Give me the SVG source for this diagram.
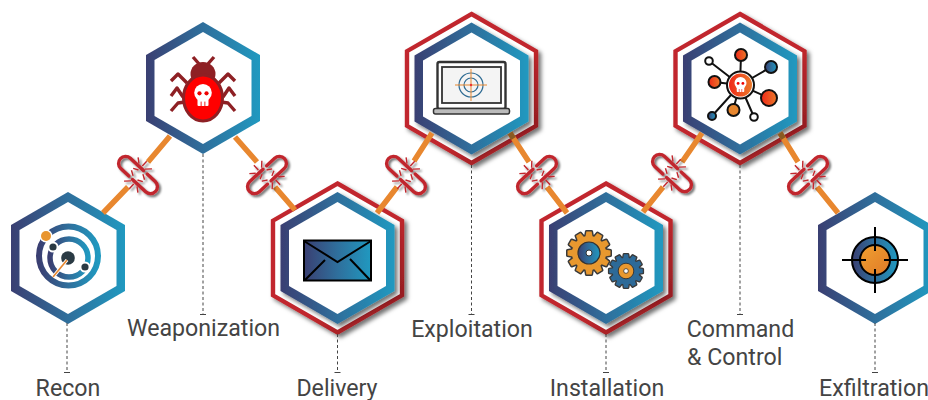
<svg xmlns="http://www.w3.org/2000/svg" xmlns:xlink="http://www.w3.org/1999/xlink" width="928" height="400" viewBox="0 0 928 400">
<style>
.lbl{font-family:Roboto,"Liberation Sans",sans-serif;font-size:23.2px;fill:#444;text-anchor:middle}
.lead{stroke:#444;stroke-width:1;stroke-dasharray:3 2.5;fill:none}
.tick{stroke:#444;stroke-width:1;fill:none}
.con{stroke:#e8872f;stroke-width:5.5;fill:none}
.stub{stroke:#8a5a22;stroke-width:5.5;fill:none}
.k{stroke:#111;stroke-width:2}
.leg{stroke:#8e2024;stroke-width:3.4;fill:none;stroke-linejoin:round}
.spark{stroke:#c1272d;stroke-width:1.4}
.chain{stroke:#c1272d;stroke-width:3.4;fill:none;stroke-linecap:round}
</style>
<defs>
<linearGradient id="blue" x1="0" y1="0" x2="1" y2="0"><stop offset="0" stop-color="#3a3f72"/><stop offset=".5" stop-color="#2f6f9c"/><stop offset="1" stop-color="#2099c0"/></linearGradient>
<linearGradient id="fire" x1="0" y1="0" x2="1" y2="1"><stop offset="0" stop-color="#f0a030"/><stop offset="1" stop-color="#e07a28"/></linearGradient>
<linearGradient id="hot" x1="0" y1="0" x2="1" y2="0"><stop offset="0" stop-color="#f02818"/><stop offset="1" stop-color="#ea7a2a"/></linearGradient>
<linearGradient id="redg" x1="0" y1="0" x2="1" y2="1"><stop offset="0" stop-color="#c1272d"/><stop offset=".6" stop-color="#c1272d"/><stop offset="1" stop-color="#861a1e"/></linearGradient>
<filter id="sh" x="-20%" y="-20%" width="140%" height="140%"><feDropShadow dx="3" dy="3" stdDeviation="2" flood-color="#000" flood-opacity=".55"/></filter>
<filter id="sh2" x="-10%" y="-30%" width="120%" height="170%"><feDropShadow dx="2" dy="2" stdDeviation="1.2" flood-color="#000" flood-opacity=".55"/></filter>
<g id="hexB">
<polygon points="0,-66 57,-33 57,33 0,66 -57,33 -57,-33" fill="url(#blue)"/>
<polygon points="0,-56 48.500,-28 48.500,28 0,56 -48.500,28 -48.500,-28" fill="#fff"/>
</g>
<polygon id="hexR" points="0,-74.500 64.500,-37.300 64.500,37.300 0,74.500 -64.500,37.300 -64.500,-37.300" fill="#fff" stroke="url(#redg)" stroke-width="4.400"/>
<g id="link">
<path class="chain" d="M1,-7H-17A7,7 0 0 0 -17,7H-6"/>
<path class="chain" d="M-1,7H17A7,7 0 0 0 17,-7H6"/>
<path class="spark" d="M-3,-9.500V-16M-7,-9L-12,-13M1,-9L6,-14M-3,-4L-8,-1.500M3,-4L8,-1"/>
<path class="spark" d="M3,9.500V16M7,9L12,13M-1,9L-6,14M3,4L8,1.500M-3,4L-8,1"/>
</g>
<g id="skull">
<circle cx="0" cy="-2" r="8" fill="#fff"/><rect x="-5" y="2" width="10" height="8" rx="1" fill="#fff"/>
<circle cx="-3.200" cy="-1.500" r="1.900" fill="#e00"/><circle cx="3.200" cy="-1.500" r="1.900" fill="#e00"/>
<path d="M-1.700,6V10M1.700,6V10" stroke="#e00" stroke-width=".8"/>
</g>
<polygon id="tooth" points="-3.600,-16 -2.600,-21.500 2.600,-21.500 3.600,-16"/>
<g id="gear">
<circle r="17"/>
<use href="#tooth"/><use href="#tooth" transform="rotate(30)"/><use href="#tooth" transform="rotate(60)"/><use href="#tooth" transform="rotate(90)"/><use href="#tooth" transform="rotate(120)"/><use href="#tooth" transform="rotate(150)"/><use href="#tooth" transform="rotate(180)"/><use href="#tooth" transform="rotate(210)"/><use href="#tooth" transform="rotate(240)"/><use href="#tooth" transform="rotate(270)"/><use href="#tooth" transform="rotate(300)"/><use href="#tooth" transform="rotate(330)"/>
</g>
</defs>

<g id="node-recon">
<use href="#hexB" x="68" y="258"/>
<circle cx="68.500" cy="256" r="29.500" fill="none" stroke="url(#blue)" stroke-width="6"/>
<circle cx="69" cy="258" r="19" fill="none" stroke="url(#blue)" stroke-width="5.500"/>
<circle cx="46" cy="236" r="6.500" fill="#fff"/><circle cx="46" cy="236" r="5" fill="#e8952f"/>
<circle cx="53" cy="247" r="5.500" fill="#fff"/><circle cx="53" cy="247" r="3.600" fill="#2a3a44"/>
<circle cx="85" cy="267" r="5.500" fill="#fff"/><circle cx="85" cy="267" r="3.600" fill="#2a3a44"/>
<circle cx="68" cy="258" r="6.800" fill="#2a3a44"/>
<path d="M53,277L67,260" stroke="#fff" stroke-width="3.500"/>
<path d="M53,277L67,260" stroke="#e8872f" stroke-width="1.600"/>
</g>

<g id="node-weaponization">
<use href="#hexB" x="203" y="88"/>
<ellipse cx="203" cy="74" rx="12.500" ry="12" fill="#8e2024"/>
<path class="leg" d="M193,57L200,65M214,57L207,65M187,83L178,74L171,81M219,83L228,74L235,81M183,97L177,88L171,96M223,97L229,88L235,96M185,102L178,103L171,111M221,102L228,103L235,111"/>
<ellipse cx="203" cy="98" rx="19.500" ry="23" fill="#f00" stroke="#8e2024" stroke-width="3"/>
<use href="#skull" transform="translate(203,95) scale(1.100)"/>
</g>

<g id="node-delivery">
<use href="#hexR" x="337.500" y="258" filter="url(#sh)"/>
<use href="#hexB" x="337.500" y="258" filter="url(#sh)"/>
<rect x="304" y="240.500" width="67" height="40" fill="url(#blue)" stroke="#000" stroke-width="2"/>
<path d="M304,241L337.500,262L371,241M305,280L325,260M370,280L350,259" fill="none" stroke="#000" stroke-width="2"/>
</g>

<g id="node-exploitation">
<use href="#hexR" x="471.500" y="88.500" filter="url(#sh)"/>
<use href="#hexB" x="471.500" y="88.500" filter="url(#sh)"/>
<rect x="437.500" y="62" width="68" height="47" rx="2" fill="#fff" stroke="#333" stroke-width="2.400"/>
<rect x="442" y="67" width="59" height="36" fill="#f4f4f4" stroke="#333" stroke-width="1.800"/>
<rect x="433.500" y="108.500" width="76" height="5.500" rx="2" fill="#bbb" stroke="#333" stroke-width="1.500"/>
<circle cx="471" cy="85" r="12" fill="none" stroke="#2d6a92" stroke-width="1.200"/>
<circle cx="471" cy="85" r="7" fill="none" stroke="#2d6a92" stroke-width="1.200"/>
<path d="M455,85H487M471,69V101" stroke="#e8872f" stroke-width="1"/>
<circle cx="471" cy="85" r="1.200" fill="#e33"/>
</g>

<g id="node-installation">
<use href="#hexR" x="606" y="258" filter="url(#sh)"/>
<use href="#hexB" x="606" y="258" filter="url(#sh)"/>
<g transform="translate(589,253)">
<use href="#gear" fill="#3a3a3a" stroke="#3a3a3a" stroke-width="3" stroke-linejoin="round"/>
<use href="#gear" fill="#e8982f"/>
<circle r="11" fill="url(#blue)" stroke="#333" stroke-width="1.200"/>
<circle r="3" fill="#fff" stroke="#333"/>
</g>
<g transform="translate(626,271) scale(.78)">
<use href="#gear" fill="#3a3a3a" stroke="#3a3a3a" stroke-width="3.400" stroke-linejoin="round"/>
<use href="#gear" fill="#2d6a98"/>
<circle r="10" fill="#e8982f" stroke="#333" stroke-width="1.200"/>
<circle r="3" fill="#fff" stroke="#333"/>
</g>
</g>

<g id="node-command">
<use href="#hexR" x="740" y="88.500" filter="url(#sh)"/>
<use href="#hexB" x="740" y="88.500" filter="url(#sh)"/>
<path d="M740,85L741,55M740,85L771,67M740,85L769,98M740,85L754,117M740,85L733,110M740,85L712,116M740,85L714,82M740,85L709,61" stroke="#111" stroke-width="2"/>
<circle class="k" cx="741" cy="55" r="6" fill="url(#hot)"/>
<circle class="k" cx="771" cy="67" r="6" fill="url(#blue)"/>
<circle class="k" cx="769" cy="98" r="8" fill="url(#hot)"/>
<circle class="k" cx="754" cy="117" r="3.800" fill="#fff"/>
<circle class="k" cx="733.500" cy="110" r="6" fill="#e8872f"/>
<circle class="k" cx="712" cy="116" r="4" fill="url(#blue)"/>
<circle class="k" cx="714.500" cy="82" r="6" fill="url(#hot)"/>
<circle class="k" cx="709" cy="61" r="3.800" fill="#fff"/>
<circle cx="740.500" cy="85" r="13.500" fill="#fff" stroke="#111" stroke-width="2"/>
<circle cx="740.500" cy="85" r="11.500" fill="url(#hot)"/>
<use href="#skull" transform="translate(740.500,84.500) scale(.75)"/>
</g>

<g id="node-exfiltration">
<use href="#hexB" x="875" y="258"/>
<circle cx="875" cy="260" r="23" fill="url(#blue)" stroke="#000" stroke-width="2"/>
<circle cx="875" cy="260" r="15" fill="url(#fire)" stroke="#000" stroke-width="2"/>
<path d="M842,260H866M884,260H908M875,227V251M875,269V293" stroke="#000" stroke-width="2"/>
</g>

<g id="connectors">
<path class="con" d="M103,213L128,187M148,162L170,136M235,137L257,162M275,187L295,210M377,213L397,187M414,161L432,133M510,133L529,162M547,187L567,213M643,212L663,187M682,162L702,133M780,133L798,162M817,187L838,213"/>
<path class="stub" d="M510,133L513.500,138.500M780,133L783.500,138.500"/>
<g filter="url(#sh2)">
<use href="#link" transform="translate(138,175) rotate(43)"/>
<use href="#link" transform="translate(267,175) rotate(-43)"/>
<use href="#link" transform="translate(406,175) rotate(43)"/>
<use href="#link" transform="translate(537,175) rotate(-43)"/>
<use href="#link" transform="translate(672,173) rotate(43)"/>
<use href="#link" transform="translate(808,175) rotate(-43)"/>
</g>
<path class="lead" d="M67,323V372M203,154V314M337.500,334V372M471.500,165V314M606,334V372M740,165V314M875,323V372"/>
<path class="tick" d="M64,372.500H70M200,314.500H206M334.500,372.500H340.500M468.500,314.500H474.500M603,372.500H609M737,314.500H743M872,372.500H878"/>
</g>

<text class="lbl" x="68" y="396">Recon</text>
<text class="lbl" x="203.500" y="336">Weaponization</text>
<text class="lbl" x="337" y="396">Delivery</text>
<text class="lbl" x="472" y="337">Exploitation</text>
<text class="lbl" x="607" y="396">Installation</text>
<text class="lbl" x="740.500" y="337">Command</text>
<text class="lbl" x="687" y="365" style="text-anchor:start">&amp; Control</text>
<text class="lbl" x="874" y="396">Exfiltration</text>
</svg>
